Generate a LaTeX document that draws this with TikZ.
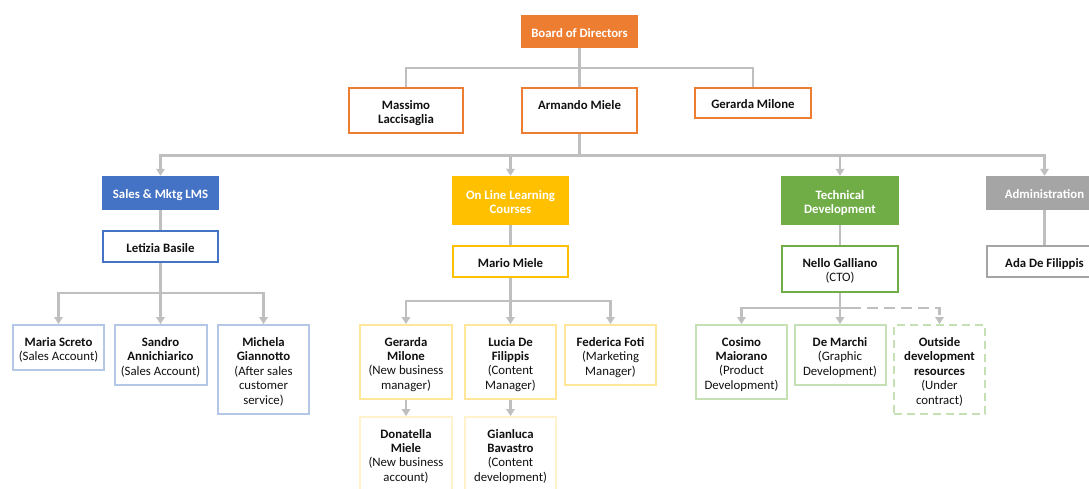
\documentclass[tikz,border=0pt]{standalone}
\usepackage{fontspec}
\setmainfont{Carlito}
\usetikzlibrary{arrows.meta}
\definecolor{cOrange}{HTML}{ED7D31}
\definecolor{cBlue}{HTML}{4472C4}
\definecolor{cYellow}{HTML}{FFC000}
\definecolor{cGreen}{HTML}{70AD47}
\definecolor{cGray}{HTML}{A5A5A5}
\definecolor{cLBlue}{HTML}{B4C7E7}
\definecolor{cLYellow}{HTML}{FFE699}
\definecolor{cLLYellow}{HTML}{FFF2CC}
\definecolor{cLGreen}{HTML}{C5E0B4}
\definecolor{cLine}{HTML}{BFBFBF}
\definecolor{cText}{HTML}{111111}
\tikzset{
  conn/.style={draw=cLine, line width=2.4pt},
  arr/.style={conn, -{Triangle[width=8.5pt,length=7pt]}},
  basebox/.style={rectangle, inner sep=0pt, align=center,
     font=\fontsize{12.8}{14.4}\selectfont\bfseries},
  fillbox/.style={basebox, fill=#1, draw=none, text=white},
  outbox/.style={basebox, draw=#1, line width=2pt, fill=white, text=cText},
  wh/.style args={#1x#2}{minimum width=#1pt, minimum height=#2pt}
}
\newcommand{\rl}[1]{{\mdseries #1}}
\newcommand{\sA}{\rule{0pt}{16pt}}
\newcommand{\sZ}{\rule[-4.5pt]{0pt}{4.5pt}}
\begin{document}
\begin{tikzpicture}[x=1pt,y=-1pt]
\clip (0,0) rectangle (1089,488);
\fill[white] (0,0) rectangle (1089,488);
% top level
\node[fillbox=cOrange, wh=117x33] (board) at (579.5,31.5) {\sA Board of Directors\sZ};
\node[outbox=cOrange, wh=114x45] (mas) at (406,110.5) {\sA Massimo\\Laccisaglia\sZ};
\node[outbox=cOrange, wh=115x45] (arm) at (579.5,110.5) {\sA Armando Miele\\\sZ};
\node[outbox=cOrange, wh=116x30] (gtop) at (753,103) {\sA Gerarda Milone\sZ};
% level 2
\node[fillbox=cBlue, wh=117x34] (sales) at (160.5,193) {\sA Sales \& Mktg LMS\sZ};
\node[fillbox=cYellow, wh=117x49] (onl) at (510.5,200.5) {\sA On Line Learning\\Courses\sZ};
\node[fillbox=cGreen, wh=118x49] (tech) at (840,200.5) {\sA Technical\\Development\sZ};
\node[fillbox=cGray, wh=117x34] (admin) at (1044.5,193) {\sA Administration\sZ};
% level 3
\node[outbox=cBlue, wh=115x31] (let) at (160.5,246.5) {\sA Letizia Basile\sZ};
\node[outbox=cYellow, wh=115x31] (mario) at (510.5,261.5) {\sA Mario Miele\sZ};
\node[outbox=cGreen, wh=116x46] (nello) at (840,269) {\sA Nello Galliano\\\rl{(CTO)}\sZ};
\node[outbox=cGray, wh=115x31] (ada) at (1044.5,261.5) {\sA Ada De Filippis\sZ};
% level 4 sales
\node[outbox=cLBlue, wh=91x45] (maria) at (58.5,347.5) {\sA Maria Screto\\\rl{(Sales Account)}\sZ};
\node[outbox=cLBlue, wh=92x60] (sandro) at (160.5,355) {\sA Sandro\\Annichiarico\\\rl{(Sales Account)}\sZ};
\node[outbox=cLBlue, wh=91x89] (mich) at (263.5,369.5) {\sA Michela\\Giannotto\\\rl{(After sales}\\\rl{customer}\\\rl{service)}\sZ};
% level 4 learning
\node[outbox=cLYellow, wh=92x74] (gmil) at (406,362) {\sA Gerarda\\Milone\\\rl{(New business}\\\rl{manager)}\sZ};
\node[outbox=cLYellow, wh=91x74] (lucia) at (510.5,362) {\sA Lucia De\\Filippis\\\rl{(Content}\\\rl{Manager)}\sZ};
\node[outbox=cLYellow, wh=91x60] (fede) at (610.5,355) {\sA Federica Foti\\\rl{(Marketing}\\\rl{Manager)}\sZ};
\node[outbox=cLLYellow, wh=92x74] (dona) at (406,454) {\sA Donatella\\Miele\\\rl{(New business}\\\rl{account)}\sZ};
\node[outbox=cLLYellow, wh=91x74] (gian) at (510.5,454) {\sA Gianluca\\Bavastro\\\rl{(Content}\\\rl{development)}\sZ};
% level 4 technical
\node[outbox=cLGreen, wh=91x74] (cos) at (741.5,362) {\sA Cosimo\\Maiorano\\\rl{(Product}\\\rl{Development)}\sZ};
\node[outbox=cLGreen, wh=91x60] (demar) at (840,355) {\sA De Marchi\\\rl{(Graphic}\\\rl{Development)}\sZ};
\node[outbox=cLGreen, wh=91x89, dash pattern=on 8pt off 5pt] (outs) at (939.5,369.5) {\sA Outside\\development\\resources\\\rl{(Under}\\\rl{contract)}\sZ};
% junctions
\coordinate (j1) at (579.5,68);
\coordinate (j2) at (579.5,155.5);
\coordinate (j3) at (160.5,293);
\coordinate (j4) at (510.5,301);
\coordinate (j5) at (840,308);
\coordinate (j5b) at (850,308);
% connectors top
\draw[conn] (board.south) -- (arm.north);
\draw[conn] (mas.north) |- (j1) -| (gtop.north);
% to level 2
\draw[conn] (arm.south) -- (j2);
\draw[arr] (j2) -| (sales.north);
\draw[arr] (j2) -| (onl.north);
\draw[arr] (j2) -| (tech.north);
\draw[arr] (j2) -| (admin.north);
% level 2 to 3
\draw[conn] (sales.south) -- (let.north);
\draw[conn] (onl.south) -- (mario.north);
\draw[conn] (tech.south) -- (nello.north);
\draw[conn] (admin.south) -- (ada.north);
% sales children
\draw[conn] (let.south) -- (j3);
\draw[arr] (j3) -| (maria.north);
\draw[arr] (j3) -- (sandro.north);
\draw[arr] (j3) -| (mich.north);
% learning children
\draw[conn] (mario.south) -- (j4);
\draw[arr] (j4) -| (gmil.north);
\draw[arr] (j4) -- (lucia.north);
\draw[arr] (j4) -| (fede.north);
\draw[arr] (gmil.south) -- (dona.north);
\draw[arr] (lucia.south) -- (gian.north);
% technical children
\draw[conn] (nello.south) -- (j5);
\draw[arr] (j5) -| (cos.north);
\draw[arr] (j5) -- (demar.north);
\draw[conn] (j5) -- (j5b);
\draw[arr, dash pattern=on 11pt off 6pt] (j5b) -| (outs.north);
\end{tikzpicture}
\end{document}
